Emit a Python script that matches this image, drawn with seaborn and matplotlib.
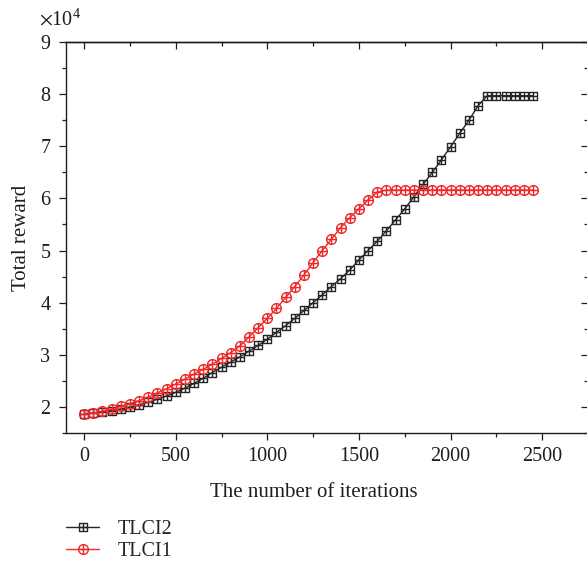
import numpy as np
import pandas as pd
import matplotlib
matplotlib.use("Agg")
import matplotlib.pyplot as plt
from matplotlib.path import Path
from matplotlib.ticker import MultipleLocator, FuncFormatter
import seaborn as sns

# Training iterations (one sample every 50 iterations)
iterations = np.arange(0, 2500, 50)

# Total reward per method
tlci2_reward = [
    18700, 18800, 19000, 19300, 19600, 20000, 20400, 20900, 21500, 22100,
    22800, 23600, 24500, 25500, 26600, 27600, 28600, 29600, 30700, 31800,
    33000, 34300, 35600, 37000, 38500, 40000, 41500, 43100, 44600, 46300,
    48200, 50000, 51800, 53800, 55900, 58000, 60300, 62700, 65000, 67400,
    69900, 72500, 75000, 77800, 79700, 79700, 79700, 79700, 79700, 79700,
]
tlci1_reward = [
    18700, 18900, 19200, 19600, 20100, 20600, 21200, 21900, 22700, 23500,
    24400, 25300, 26300, 27200, 28200, 29300, 30400, 31700, 33400, 35200,
    37000, 38900, 41000, 43100, 45300, 47700, 50000, 52200, 54400, 56300,
    58000, 59700, 61200, 61600, 61600, 61600, 61600, 61600, 61600, 61600,
    61600, 61600, 61600, 61600, 61600, 61600, 61600, 61600, 61600, 61600,
]

series_names = ["TLCI2", "TLCI1"]
series_colors = {"TLCI2": "#262626", "TLCI1": "#f02828"}

sns.set_theme(style="ticks")
plt.rcParams["font.family"] = ["Liberation Serif", "DejaVu Serif"]
plt.rcParams["mathtext.fontset"] = "stix"

# Marker shapes: boxed plus and circled plus
MOVETO, LINETO, CLOSE = Path.MOVETO, Path.LINETO, Path.CLOSEPOLY
cross = Path([(-1, 0), (1, 0), (0, -1), (0, 1)], [MOVETO, LINETO, MOVETO, LINETO])
square = Path([(-1, -1), (1, -1), (1, 1), (-1, 1), (-1, -1)],
              [MOVETO, LINETO, LINETO, LINETO, CLOSE])
boxed_plus = Path.make_compound_path(square, cross)
circled_plus = Path.make_compound_path(Path.unit_circle(), cross)
series_markers = {"TLCI2": (boxed_plus, 6.2), "TLCI1": (circled_plus, 7.0)}

df = pd.DataFrame({
    "iteration": np.concatenate([iterations, iterations]),
    "reward": np.concatenate([tlci2_reward, tlci1_reward]),
    "method": ["TLCI2"] * len(iterations) + ["TLCI1"] * len(iterations),
})

W, H = 587, 568
fig = plt.figure(figsize=(W / 100, H / 100), dpi=100)
ax = fig.add_axes([65.7 / W, 1 - 433 / H, (588.1 - 65.7) / W, (433 - 42) / H])

for name in series_names:
    marker, msize = series_markers[name]
    sns.lineplot(
        data=df[df["method"] == name], x="iteration", y="reward", ax=ax,
        color=series_colors[name], linewidth=1.0, label=name,
        marker=marker, markersize=msize, markerfacecolor="none",
        markeredgecolor=series_colors[name], markeredgewidth=1.0,
        errorbar=None,
    )

ax.set_xlim(-100, 2750)
ax.set_ylim(15000, 90000)

ax.xaxis.set_major_locator(MultipleLocator(500))
ax.xaxis.set_minor_locator(MultipleLocator(250))
ax.yaxis.set_major_locator(MultipleLocator(10000))
ax.yaxis.set_minor_locator(MultipleLocator(5000))
ax.yaxis.set_major_formatter(FuncFormatter(lambda v, _: f"{v / 1e4:g}"))

axis_color = "#1e1e1e"
for sp in ax.spines.values():
    sp.set_visible(True)
    sp.set_color(axis_color)
    sp.set_linewidth(1.0)

ax.tick_params(which="major", direction="out", length=5, width=0.9,
               color=axis_color, labelsize=14.5, labelcolor="#1e1e1e")
ax.tick_params(which="minor", direction="out", length=2.6, width=0.9,
               color=axis_color)
ax.tick_params(axis="x", which="major", pad=5)
ax.tick_params(axis="y", which="major", pad=6)
ax.tick_params(top=False, right=False)

# Mirrored inward ticks on top and right
top = ax.secondary_xaxis("top")
top.xaxis.set_major_locator(MultipleLocator(500))
top.xaxis.set_minor_locator(MultipleLocator(250))
top.tick_params(which="major", direction="in", length=5, width=0.9,
                color=axis_color, labeltop=False)
top.tick_params(which="minor", direction="in", length=2.6, width=0.9,
                color=axis_color)
right = ax.secondary_yaxis("right")
right.yaxis.set_major_locator(MultipleLocator(10000))
right.yaxis.set_minor_locator(MultipleLocator(5000))
right.tick_params(which="major", direction="in", length=5, width=0.9,
                  color=axis_color, labelright=False)
right.tick_params(which="minor", direction="in", length=2.6, width=0.9,
                  color=axis_color)
for sec in (top, right):
    for sp in sec.spines.values():
        sp.set_color(axis_color)
        sp.set_linewidth(1.0)

ax.set_xlabel("The number of iterations", fontsize=15, color="#1e1e1e")
ax.set_ylabel("Total reward", fontsize=15, color="#1e1e1e")
ax.xaxis.set_label_coords(0.474, -0.127)
ax.yaxis.set_label_coords(-0.066, 0.5)

ax.text(-0.052, 1 + 17 / 391, r"$\times\mathregular{10^{4}}$",
        transform=ax.transAxes, ha="left", va="baseline",
        fontsize=14.5, color="#1e1e1e")

if ax.get_legend():
    ax.get_legend().remove()
handles, labels = ax.get_legend_handles_labels()
fig.legend(handles, labels, loc="upper left",
           bbox_to_anchor=(66 / W, 1 - 520 / H), frameon=False,
           fontsize=14.5, handlelength=1.65, handletextpad=0.9,
           labelspacing=0.12, borderpad=0, borderaxespad=0)

fig.savefig("out.png", dpi=100)
